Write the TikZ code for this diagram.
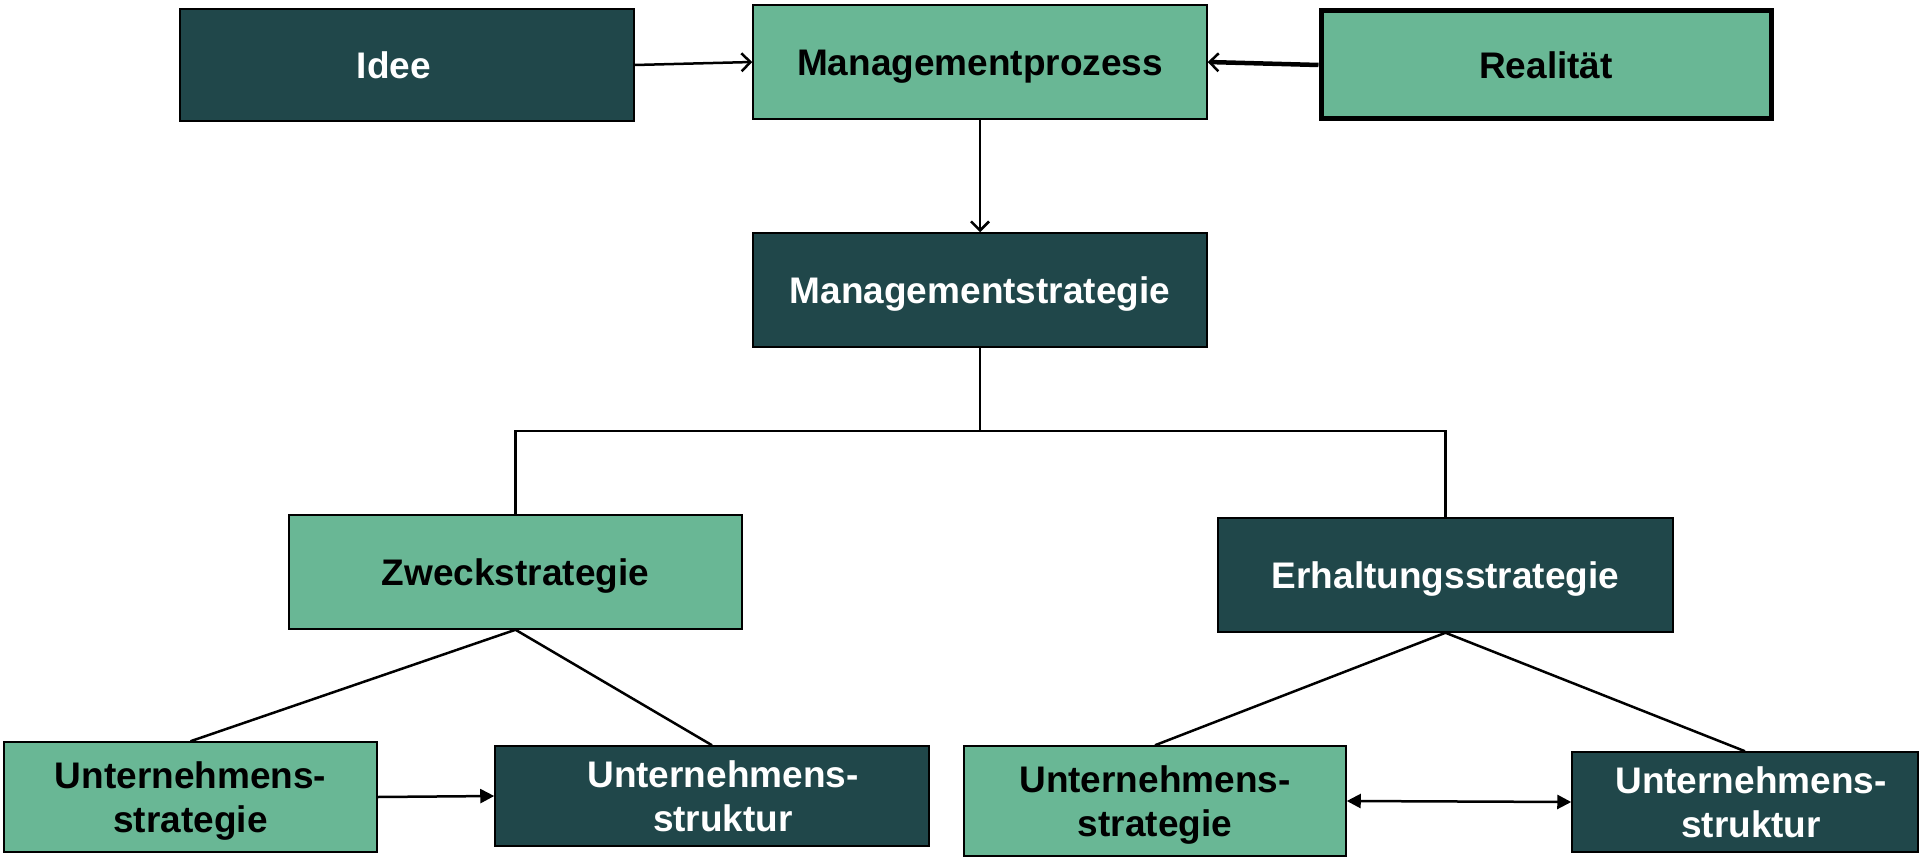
\documentclass[tikz,border=0pt]{standalone}
\usepackage{fontspec}
\setmainfont{Liberation Sans}
\usetikzlibrary{arrows.meta}
\definecolor{darkbox}{HTML}{20474A}
\definecolor{lightbox}{HTML}{69B795}
\begin{document}
\begin{tikzpicture}[x=1pt,y=-1pt,
  box/.style={draw=black, line width=1.5pt, inner sep=0pt, align=center,
    font=\fontsize{37}{44}\selectfont\bfseries, text height=27pt, text depth=0pt},
  two/.style={text height=71pt, text depth=0pt},
  darkb/.style={box, fill=darkbox, text=white},
  lightb/.style={box, fill=lightbox, text=black},
  conn/.style={line width=2.5pt, draw=black},
  openarr/.style={conn, -{Straight Barb[length=9pt,width=18pt,line width=2.5pt]}},
]
\useasboundingbox (0,0) rectangle (1920,864);
\node[darkb, minimum width=454pt, minimum height=112pt] (idee) at (407,65) {Idee\hspace*{26pt}};
\node[lightb, minimum width=454pt, minimum height=114pt] (mproz) at (980,62) {Managementprozess};
\node[lightb, line width=5pt, minimum width=450pt, minimum height=108pt] (real) at (1546,65) {Realität};
\node[darkb, minimum width=454pt, minimum height=114pt] (mstrat) at (980,290) {Managementstrategie};
\node[lightb, minimum width=453pt, minimum height=114pt] (zweck) at (515.5,572) {Zweckstrategie};
\node[darkb, minimum width=455pt, minimum height=114pt] (erh) at (1445.5,575) {Erhaltungsstrategie};
\node[lightb, two, minimum width=373pt, minimum height=110pt] (lus) at (190.5,797) {Unternehmens-\\strategie};
\node[darkb, two, minimum width=434pt, minimum height=100pt] (lust) at (712,796) {\hspace*{22pt}Unternehmens-\\\hspace*{22pt}struktur};
\node[lightb, two, minimum width=382pt, minimum height=110pt] (rus) at (1155,801) {Unternehmens-\\strategie};
\node[darkb, two, minimum width=346pt, minimum height=100pt] (rust) at (1745,802) {\hspace*{12pt}Unternehmens-\\\hspace*{12pt}struktur};

\draw[openarr] (idee.east) -- (mproz.west);
\draw[openarr, line width=4.5pt] (real.west) -- (mproz.east);
\draw[openarr] (mproz.south) -- (mstrat.north);

\coordinate (hub) at (980,431);
\draw[conn] (mstrat.south) -- (hub) -| (zweck.north);
\draw[conn] (hub) -| (erh.north);

\draw[conn] (zweck.south) -- (lus.north);
\draw[conn] (zweck.south) -- (lust.north);
\draw[conn] (erh.south) -- (rus.north);
\draw[conn] (erh.south) -- (rust.north);

\draw[conn, -{Triangle[length=14pt,width=14pt]}] (lus.east) -- (lust.west);
\draw[conn, {Triangle[length=14pt,width=14pt]}-{Triangle[length=14pt,width=14pt]}] (rus.east) -- (rust.west);
\end{tikzpicture}
\end{document}
